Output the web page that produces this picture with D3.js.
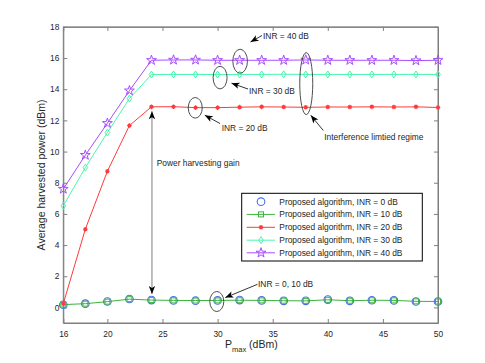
<!DOCTYPE html>
<html><head><meta charset="utf-8">
<script src="https://cdn.jsdelivr.net/npm/d3@7"></script>
<style>
body{margin:0;background:#fff;}
svg text{font-family:"Liberation Sans",Arial,Helvetica,sans-serif;}
</style></head>
<body><svg id="c" width="485" height="363"></svg>
<script>
const xs = [16,18,20,22,24,26,28,30,32,34,36,38,40,42,44,46,48,50];
const inr0  = [0.17,0.24,0.38,0.54,0.47,0.45,0.43,0.45,0.47,0.45,0.42,0.42,0.50,0.42,0.46,0.45,0.38,0.38];
const inr10 = [0.18,0.24,0.37,0.53,0.47,0.45,0.44,0.45,0.46,0.45,0.43,0.42,0.49,0.43,0.46,0.45,0.39,0.38];
const inr20 = [0.24,5.02,8.74,11.67,12.87,12.88,12.82,12.82,12.85,12.87,12.86,12.84,12.86,12.86,12.87,12.86,12.87,12.83];
const inr30 = [6.52,8.97,11.22,13.40,14.94,14.95,14.95,14.94,14.95,14.95,14.96,14.95,14.95,14.95,14.95,14.95,14.95,14.95];
const inr40 = [7.60,9.77,11.82,13.91,15.86,15.88,15.88,15.86,15.86,15.86,15.86,15.88,15.86,15.86,15.86,15.86,15.84,15.86];
const xTicks = [16,20,25,30,35,40,45,50];
const yTicks = [0,2,4,6,8,10,12,14,16,18];
const legendLabels = ["Proposed algorithm, INR = 0 dB","Proposed algorithm, INR = 10 dB","Proposed algorithm, INR = 20 dB","Proposed algorithm, INR = 30 dB","Proposed algorithm, INR = 40 dB"];

const svg = d3.select("#c");
const L=63.3, R=438, T=26.9, B=323;
const x = d3.scaleLinear().domain([16,50]).range([L,R]);
const y = d3.scaleLinear().domain([-1,18]).range([B,T]);
const axisCol="#7f7f7f", txtCol="#262626";

const defs = svg.append("defs");
defs.append("marker").attr("id","ah").attr("markerUnits","userSpaceOnUse")
  .attr("markerWidth",12).attr("markerHeight",12).attr("refX",0).attr("refY",0)
  .attr("viewBox","-10 -6 12 12").attr("orient","auto")
  .append("path").attr("d","M0,0 L-8,-3.2 L-6,0 L-8,3.2 Z").attr("fill","#000");

const fs = 8.4;
function styleAxis(g){ g.selectAll("path.domain").attr("stroke",axisCol);
  g.selectAll(".tick line").attr("stroke",axisCol);
  g.selectAll(".tick text").attr("fill",txtCol).style("font-size",fs+"px"); }
svg.append("g").attr("transform",`translate(0,${B})`)
  .call(d3.axisBottom(x).tickValues(xTicks).tickSize(-4).tickSizeOuter(0).tickPadding(8)).call(styleAxis);
svg.append("g").attr("transform",`translate(0,${T})`)
  .call(d3.axisTop(x).tickValues(xTicks).tickSize(-4).tickSizeOuter(0).tickFormat("")).call(styleAxis);
svg.append("g").attr("transform",`translate(${L},0)`)
  .call(d3.axisLeft(y).tickValues(yTicks).tickSize(-4).tickSizeOuter(0).tickPadding(4)).call(styleAxis);
svg.append("g").attr("transform",`translate(${R},0)`)
  .call(d3.axisRight(y).tickValues(yTicks).tickSize(-4).tickSizeOuter(0).tickFormat("")).call(styleAxis);
svg.append("rect").attr("x",L).attr("y",T).attr("width",R-L).attr("height",B-T)
  .attr("fill","none").attr("stroke",axisCol);

const cols = {c0:"#4a6ff0", c10:"#3cb43c", c20:"#ff3a3a", c30:"#4cf5b0", c40:"#a64dff"};
const line = d3.line().x((d,i)=>x(xs[i])).y(d=>y(d));
const plotG = svg.append("g");
function drawLine(vals,col){ plotG.append("path").datum(vals).attr("d",line).attr("fill","none").attr("stroke",col).attr("stroke-width",1); }
function markStar(g,px,py,col){ g.append("path").attr("d",d3.symbol().type(d3.symbolStar).size(30)()).attr("transform",`translate(${px},${py})`).attr("fill","none").attr("stroke",col).attr("stroke-width",1); }
function markDiamond(g,px,py,col){ g.append("path").attr("d",`M0,-3.5 L2.3,0 L0,3.5 L-2.3,0 Z`).attr("transform",`translate(${px},${py})`).attr("fill","none").attr("stroke",col).attr("stroke-width",1); }
function markAst(g,px,py,col){ g.append("path").attr("d","M-2.3,0 L2.3,0 M0,-2.3 L0,2.3 M-1.6,-1.6 L1.6,1.6 M-1.6,1.6 L1.6,-1.6").attr("transform",`translate(${px},${py})`).attr("stroke",col).attr("stroke-width",1.1); 
  g.append("circle").attr("cx",px).attr("cy",py).attr("r",1.2).attr("fill",col); }
function markSquare(g,px,py,col){ g.append("rect").attr("x",px-2.5).attr("y",py-2.5).attr("width",5).attr("height",5).attr("fill","none").attr("stroke",col).attr("stroke-width",1); }
function markCircle(g,px,py,col){ g.append("circle").attr("cx",px).attr("cy",py).attr("r",3.8).attr("fill","none").attr("stroke",col).attr("stroke-width",1.1); }

drawLine(inr10,cols.c10);
drawLine(inr20,cols.c20);
drawLine(inr30,cols.c30);
drawLine(inr40,cols.c40);
inr40.forEach((v,i)=>markStar(plotG,x(xs[i]),y(v),cols.c40));
inr30.forEach((v,i)=>markDiamond(plotG,x(xs[i]),y(v),cols.c30));
inr0.forEach((v,i)=>markCircle(plotG,x(xs[i]),y(v),cols.c0));
inr10.forEach((v,i)=>markSquare(plotG,x(xs[i]),y(v),cols.c10));
inr20.forEach((v,i)=>markAst(plotG,x(xs[i]),y(v),cols.c20));

const ann = svg.append("g");
function ellipse(cx,cy,rx,ry){ ann.append("ellipse").attr("cx",cx).attr("cy",cy).attr("rx",rx).attr("ry",ry).attr("fill","none").attr("stroke","#3a3a3a").attr("stroke-width",0.9); }
function arrow(x1,y1,x2,y2,col){ ann.append("line").attr("x1",x1).attr("y1",y1).attr("x2",x2).attr("y2",y2).attr("stroke",col||"#000").attr("stroke-width",0.8).attr("marker-end","url(#ah)"); }
function label(tx,ty,t){ ann.append("text").attr("x",tx).attr("y",ty).attr("fill",txtCol).style("font-size",fs+"px").text(t); }

ellipse(x(32)+0.5,y(inr40[8])+1,7.3,12);
arrow(262,35.5,250.5,42);
label(263,39.2,"INR = 40 dB");

ellipse(x(30)+2.5,y(inr30[7])+3,7,11.3);
arrow(248,89,231.5,83.2);
label(249,93.8,"INR = 30 dB");

ellipse(x(28)-0.3,y(inr20[6])+0.2,7,10.3);
arrow(220,123.5,204.8,115.2);
label(221.7,131.2,"INR = 20 dB");

ellipse(x(38)+0.5,(y(inr40[11])+y(inr20[11]))/2,6.5,31);
arrow(323.3,130.5,310.8,115.3);
label(324.3,139.8,"Interference limtied regime");

ellipse(x(30)-0.8,y(inr0[7])+1.1,7,10);
arrow(257.5,284.3,225.3,297.6);
label(258,287.4,"INR = 0, 10 dB");

const gx = x(24)+0.5;
ann.append("line").attr("x1",gx).attr("x2",gx).attr("y1",200).attr("y2",y(inr20[4])+4.5).attr("stroke","#8a8a8a").attr("stroke-width",1.1).attr("marker-end","url(#ah)");
ann.append("line").attr("x1",gx).attr("x2",gx).attr("y1",200).attr("y2",y(inr0[4])-6).attr("stroke","#8a8a8a").attr("stroke-width",1.1).attr("marker-end","url(#ah)");
label(156.7,165.8,"Power harvesting gain");

const lg = svg.append("g");
lg.append("rect").attr("x",241.7).attr("y",193.3).attr("width",180.6).attr("height",67.7).attr("fill","#fff").attr("stroke","#000").attr("stroke-width",1);
const rowY = [201.7,214.4,227.3,240.2,252.8];
const lcols=[cols.c0,cols.c10,cols.c20,cols.c30,cols.c40];
const mfn=[markCircle,markSquare,markAst,markDiamond,markStar];
legendLabels.forEach((t,i)=>{
  if(i>0) lg.append("line").attr("x1",246.7).attr("x2",275).attr("y1",rowY[i]).attr("y2",rowY[i]).attr("stroke",lcols[i]).attr("stroke-width",1);
  mfn[i](lg,261,rowY[i],lcols[i]);
  lg.append("text").attr("x",279.3).attr("y",rowY[i]+3).attr("fill",txtCol).style("font-size",fs+"px").text(t);
});

svg.append("text").attr("transform",`translate(44.5,${(T+B)/2}) rotate(-90)`).attr("text-anchor","middle")
  .attr("fill",txtCol).style("font-size","10.5px").text("Average harvested power (dBm)");
const xl = svg.append("text").attr("x",225).attr("y",348).attr("fill",txtCol).style("font-size","10.5px");
xl.append("tspan").text("P");
xl.append("tspan").attr("dy",4).style("font-size","7.5px").text("max");
xl.append("tspan").attr("dy",-4).text(" (dBm)");
</script></body></html>
